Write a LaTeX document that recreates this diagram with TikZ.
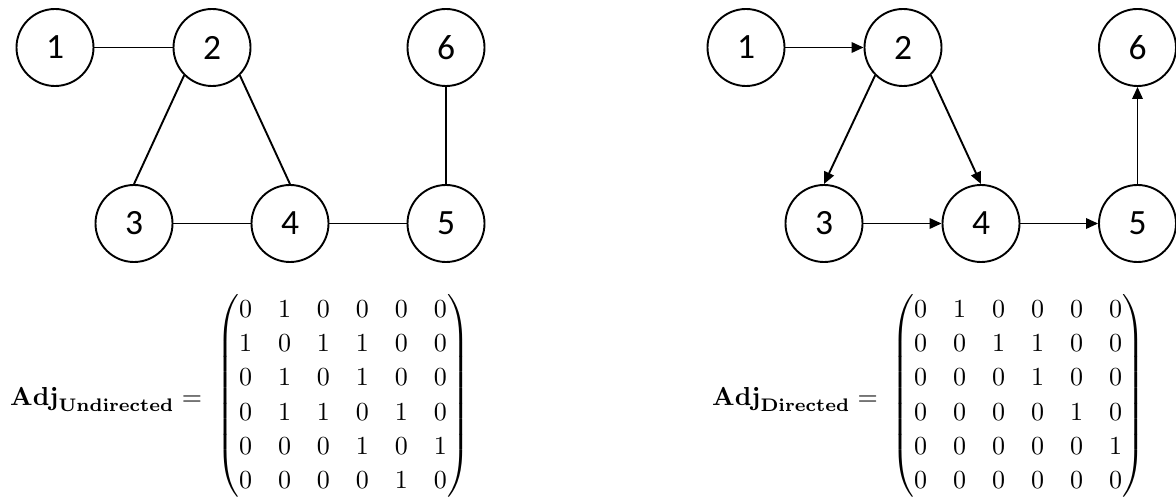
\documentclass[tikz,border=0pt]{standalone}
\usepackage{amsmath}
\usepackage{graphicx}
\usepackage[no-math]{fontspec}
\usetikzlibrary{arrows.meta}
\newfontfamily\vertexfont{Carlito}
\tikzset{
  vertex/.style={draw, circle, line width=1.9pt, minimum size=77pt, inner sep=0pt,
                 font=\vertexfont\fontsize{35.5}{42}\selectfont},
  edge/.style={line width=1.9pt},
  arc/.style={edge, -{Triangle[length=12pt,width=10.5pt]}},
  eqlabel/.style={inner sep=0pt, anchor=base west},
  mat/.style={inner sep=0pt, anchor=center}
}
\newcommand{\bigmath}[1]{\scalebox{2.6}{#1}}
\begin{document}
\begin{tikzpicture}[x=1pt,y=-1pt]
  \useasboundingbox (0,0) rectangle (1176,497);
  \clip (0,0) rectangle (1176,497);

  % undirected graph
  \node[vertex] (u1) at (55,47.5)   {1};
  \node[vertex] (u2) at (212,47.5)  {2};
  \node[vertex] (u3) at (134,223.5) {3};
  \node[vertex] (u4) at (290,223.5) {4};
  \node[vertex] (u5) at (446,223.5) {5};
  \node[vertex] (u6) at (446,47.5)  {6};
  \draw[edge] (u1.east) -- (u2.west);
  \draw[edge] (u2.south west) -- (u3.north);
  \draw[edge] (u2.south east) -- (u4.north);
  \draw[edge] (u3.east) -- (u4.west);
  \draw[edge] (u4.east) -- (u5.west);
  \draw[edge] (u5.north) -- (u6.south);

  % directed graph
  \node[vertex] (d1) at (746,47.5)   {1};
  \node[vertex] (d2) at (903,47.5)   {2};
  \node[vertex] (d3) at (824,223.5)  {3};
  \node[vertex] (d4) at (981,223.5)  {4};
  \node[vertex] (d5) at (1137.5,223.5) {5};
  \node[vertex] (d6) at (1137.5,47.5)  {6};
  \draw[arc] (d1.east) -- (d2.west);
  \draw[arc] (d2.south west) -- (d3.north);
  \draw[arc] (d2.south east) -- (d4.north);
  \draw[arc] (d3.east) -- (d4.west);
  \draw[arc] (d4.east) -- (d5.west);
  \draw[arc] (d5.north) -- (d6.south);

  % adjacency matrices
  \def\arraystretch{1.1}
  \node[eqlabel] (ul) at (10,405) {\bigmath{$\mathbf{Adj}_{\mathbf{Undirected}} =$}};
  \node[mat] (um) at (343,396) {\bigmath{$\begin{pmatrix}
    0 & 1 & 0 & 0 & 0 & 0\\
    1 & 0 & 1 & 1 & 0 & 0\\
    0 & 1 & 0 & 1 & 0 & 0\\
    0 & 1 & 1 & 0 & 1 & 0\\
    0 & 0 & 0 & 1 & 0 & 1\\
    0 & 0 & 0 & 0 & 1 & 0
  \end{pmatrix}$}};

  \node[eqlabel] (dl) at (712,405) {\bigmath{$\mathbf{Adj}_{\mathbf{Directed}} =$}};
  \node[mat] (dm) at (1018,396) {\bigmath{$\begin{pmatrix}
    0 & 1 & 0 & 0 & 0 & 0\\
    0 & 0 & 1 & 1 & 0 & 0\\
    0 & 0 & 0 & 1 & 0 & 0\\
    0 & 0 & 0 & 0 & 1 & 0\\
    0 & 0 & 0 & 0 & 0 & 1\\
    0 & 0 & 0 & 0 & 0 & 0
  \end{pmatrix}$}};
\end{tikzpicture}
\end{document}
